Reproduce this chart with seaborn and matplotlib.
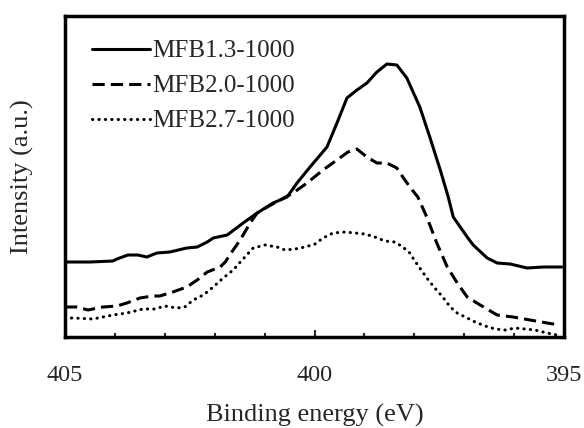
import matplotlib
matplotlib.use("Agg")
import matplotlib.pyplot as plt
from matplotlib.ticker import FixedLocator, MultipleLocator
import seaborn as sns
import pandas as pd

# === DATA ===
labels = ["MFB1.3-1000", "MFB2.0-1000", "MFB2.7-1000"]

e_13 = [405.0, 404.5, 404.04, 403.96, 403.74, 403.54, 403.36, 403.16, 402.9, 402.56,
        402.35, 402.15, 402.03, 401.75, 401.43, 401.15, 400.83, 400.55, 400.35, 400.09,
        399.75, 399.55, 399.35, 399.15, 398.95, 398.75, 398.55, 398.35, 398.15, 397.89,
        397.69, 397.48, 397.32, 397.22, 396.94, 396.82, 396.54, 396.34, 396.08, 395.74,
        395.42, 395.04]
i_13 = [75, 75, 76, 78, 82, 82, 80, 84, 85, 89,
        90, 95, 99, 102, 114, 124, 134, 140, 154, 170,
        190, 214, 239, 247, 254, 265, 273, 272, 259, 230,
        200, 167, 140, 120, 100, 92, 79, 74, 73, 69,
        70, 70]

e_20 = [405.0, 404.76, 404.54, 404.24, 403.96, 403.76, 403.5, 403.24, 403.1, 402.84,
        402.56, 402.35, 402.15, 401.89, 401.79, 401.63, 401.49, 401.29, 401.15, 400.95,
        400.69, 400.43, 400.15, 399.83, 399.55, 399.33, 399.15, 398.95, 398.75, 398.55,
        398.35, 398.23, 398.09, 397.93, 397.75, 397.55, 397.34, 397.14, 396.94, 396.68,
        396.34, 396.02, 395.68, 395.34, 395.08]
i_20 = [30, 30, 27, 30, 31, 34, 39, 41, 41, 45,
        50, 57, 65, 70, 75, 87, 97, 114, 124, 130,
        137, 144, 154, 167, 177, 185, 188, 180, 174, 174,
        169, 160, 150, 140, 120, 94, 70, 54, 40, 32,
        22, 20, 17, 14, 12]

e_27 = [405.0, 404.84, 404.44, 404.24, 404.04, 403.76, 403.44, 403.2, 403.0, 402.76,
        402.6, 402.43, 402.23, 402.03, 401.83, 401.63, 401.45, 401.23, 400.99, 400.75,
        400.59, 400.39, 400.19, 399.99, 399.83, 399.63, 399.39, 399.19, 398.99, 398.79,
        398.59, 398.39, 398.23, 398.09, 397.99, 397.89, 397.75, 397.59, 397.43, 397.28,
        397.14, 396.98, 396.78, 396.58, 396.38, 396.18, 395.98, 395.78, 395.58, 395.34,
        395.14]
i_27 = [19, 19, 18, 20, 22, 24, 28, 28, 31, 29,
        30, 37, 42, 50, 59, 67, 77, 89, 92, 90,
        87, 88, 90, 93, 99, 104, 105, 104, 103, 100,
        96, 95, 90, 84, 76, 69, 59, 49, 40, 30,
        24, 20, 15, 11, 8, 7, 9, 8, 7, 4,
        2]

# === PLOTTING ===
sns.set_style("ticks")
plt.rcParams["font.family"] = ["Liberation Serif", "DejaVu Serif"]

fig = plt.figure(figsize=(5.84, 4.28), dpi=100)
ax = fig.add_axes([0.1113, 0.2126, 0.8545, 0.75])

series = [(e_13, i_13, labels[0], "-"),
          (e_20, i_20, labels[1], (0, (4, 2))),
          (e_27, i_27, labels[2], (0, (0.1, 2.0)))]
for e, inten, lab, ls in series:
    df = pd.DataFrame({"energy": e, "intensity": inten})
    sns.lineplot(data=df, x="energy", y="intensity", ax=ax, color="black",
                 linewidth=2.2, linestyle=ls, label=lab, estimator=None, sort=False)

for ln in ax.lines[2:]:
    ln.set_dash_capstyle("round")

ax.set_xlim(405, 395)
ax.set_ylim(0, 321)
ax.xaxis.set_major_locator(FixedLocator([405, 400, 395]))
ax.xaxis.set_minor_locator(MultipleLocator(1))
ax.set_yticks([])
ax.tick_params(axis="x", which="major", direction="in", length=5, width=1.5,
               pad=20, labelsize=17.5, top=False)
ax.tick_params(axis="x", which="minor", direction="in", length=3, width=1.5, top=False)
for sp in ax.spines.values():
    sp.set_linewidth(2.5)
    sp.set_color("black")

ax.set_xlabel("Binding energy (eV)", fontsize=19, labelpad=13)
ax.set_ylabel("Intensity (a.u.)", fontsize=19, labelpad=22)

leg = ax.legend(loc="upper left", frameon=False, fontsize=18, handlelength=2.3,
                handletextpad=0.1, labelspacing=0.5, borderaxespad=0.3,
                bbox_to_anchor=(0.02, 0.98))

fig.savefig("out.png", dpi=100)
